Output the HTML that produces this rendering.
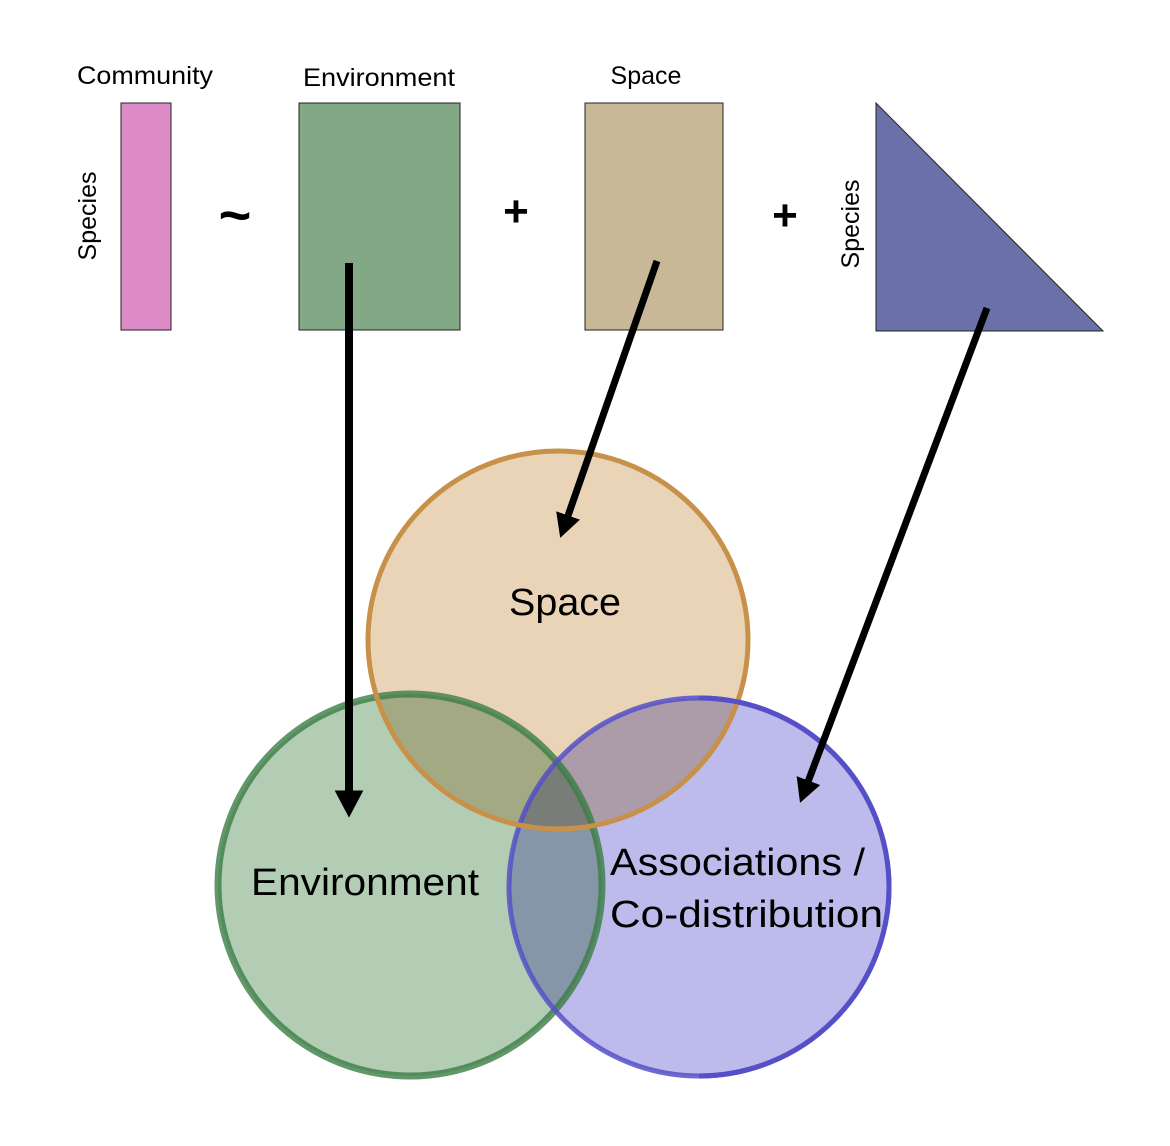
<!DOCTYPE html>
<html><head><style>body{margin:0;background:#fff}svg{display:block}</style></head><body>
<svg width="1170" height="1146" xmlns="http://www.w3.org/2000/svg" font-family="Liberation Sans, sans-serif">
<defs><marker id="ah" markerWidth="4" markerHeight="4" refX="2.2" refY="2" orient="auto" markerUnits="strokeWidth"><path d="M0,0.2 L3.4,2 L0,3.8 Z" fill="#000"/></marker></defs>
<text x="145" y="84" font-size="25" text-anchor="middle" textLength="136" lengthAdjust="spacingAndGlyphs">Community</text>
<text x="379" y="86" font-size="25" text-anchor="middle" textLength="152" lengthAdjust="spacingAndGlyphs">Environment</text>
<text x="646" y="84" font-size="25" text-anchor="middle">Space</text>
<rect x="121" y="103" width="50" height="227" fill="#dd8cc8" stroke="#222" stroke-width="1"/>
<text transform="translate(96,216) rotate(-90)" font-size="25" text-anchor="middle">Species</text>
<text x="235" y="234" font-size="56" text-anchor="middle" font-weight="bold">~</text>
<rect x="299" y="103" width="161" height="227" fill="#83a886" stroke="#222" stroke-width="1"/>
<text x="516" y="226" font-size="44" font-weight="bold" text-anchor="middle">+</text>
<rect x="585" y="103" width="138" height="227" fill="#c9b897" stroke="#222" stroke-width="1"/>
<text x="785" y="230" font-size="44" font-weight="bold" text-anchor="middle">+</text>
<text transform="translate(859,224) rotate(-90)" font-size="25" text-anchor="middle">Species</text>
<polygon points="876,103 876,331 1103,331" fill="#6b70a9" stroke="#222" stroke-width="1"/>
<g style="isolation:isolate">
<ellipse cx="410" cy="885" rx="192" ry="191" fill="#b3cdb5"/>
<ellipse cx="558" cy="640" rx="190" ry="189" fill="#e9d4b8" style="mix-blend-mode:multiply"/>
<ellipse cx="699" cy="887" rx="190" ry="189" fill="#bcbbeb" style="mix-blend-mode:multiply"/>
</g>
<ellipse cx="410" cy="885" rx="192" ry="191" fill="none" stroke="#3b7d45" stroke-width="7" stroke-opacity="0.8"/>
<ellipse cx="699" cy="887" rx="190" ry="189" fill="none" stroke="#5550c8" stroke-width="5" stroke-opacity="0.85"/>
<ellipse cx="558" cy="640" rx="190" ry="189" fill="none" stroke="#c8914a" stroke-width="5"/>
<path d="M699,698 A190,189 0 0 1 889,887 A190,189 0 0 1 699,1076" fill="none" stroke="#5550c8" stroke-width="5"/>
<text x="565" y="615" font-size="38" text-anchor="middle" textLength="112" lengthAdjust="spacingAndGlyphs">Space</text>
<text x="365" y="895" font-size="38" text-anchor="middle" textLength="228" lengthAdjust="spacingAndGlyphs">Environment</text>
<text x="610" y="875" font-size="38" textLength="255" lengthAdjust="spacingAndGlyphs">Associations /</text>
<text x="610" y="927" font-size="38" textLength="273" lengthAdjust="spacingAndGlyphs">Co-distribution</text>
<line x1="349" y1="263" x2="349" y2="808" stroke="#000" stroke-width="8" marker-end="url(#ah)"/>
<line x1="657" y1="261" x2="563" y2="530" stroke="#000" stroke-width="7" marker-end="url(#ah)"/>
<line x1="987" y1="308" x2="803" y2="795" stroke="#000" stroke-width="7" marker-end="url(#ah)"/>
</svg>
</body></html>
